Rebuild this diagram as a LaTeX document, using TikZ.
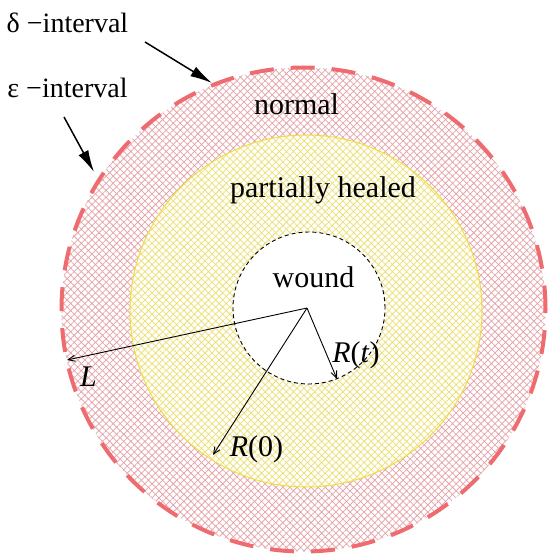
\documentclass[tikz,border=0pt]{standalone}
\usepackage{fontspec}
\setmainfont{Liberation Serif}
\usetikzlibrary{patterns.meta,arrows.meta}
\definecolor{pinkline}{RGB}{230,165,170}
\definecolor{yelline}{RGB}{236,224,115}
\definecolor{redash}{RGB}{238,108,112}
\definecolor{yelborder}{RGB}{240,220,70}
\tikzset{
  bigtxt/.style={anchor=base,inner sep=0pt,font=\fontsize{30}{34}\selectfont},
  toptxt/.style={anchor=base,inner sep=0pt,font=\fontsize{28}{32}\selectfont},
  radius arrow/.style={draw=black,line width=0.9pt,-{Straight Barb[length=7pt,width=6pt]}},
  pointer/.style={draw=black,line width=1.5pt,-{Latex[length=22pt,width=11pt]}},
}
\begin{document}
\begin{tikzpicture}[x=1pt,y=-1pt]
\useasboundingbox (0,0) rectangle (548,558);
\coordinate (oc) at (303.5,309.5);
\coordinate (yc) at (306,311);
\coordinate (wc) at (309,308);
\coordinate (ctr) at (307,308);
% outer normal region
\fill[white] (oc) circle (242pt);
\fill[pattern={Hatch[angle=45,distance=5pt,line width=0.75pt]},pattern color=pinkline] (oc) circle (242pt);
% partially healed region
\fill[white] (yc) circle (176pt);
\fill[pattern={Hatch[angle=45,distance=5pt,line width=0.75pt]},pattern color=yelline] (yc) circle (176pt);
\draw[yelborder,line width=1pt] (yc) circle (176pt);
% wound
\draw[black,fill=white,line width=0.9pt,dash pattern=on 4pt off 3pt] (wc) circle (76pt);
% outer dashed border
\draw[redash,line width=4pt,dash pattern=on 24pt off 17pt] (oc) circle (242pt);
% labels
\node[bigtxt] (normal) at (296.5,114) {normal};
\node[bigtxt] (partial) at (323,197) {partially healed};
\node[bigtxt] (wound) at (313.5,287) {wound};
\node[bigtxt] (Llab) at (88.5,386) {\textit{L}};
\node[bigtxt] (Rtlab) at (356,362) {\textit{R}(\textit{t})};
\node[bigtxt] (R0lab) at (256.5,456) {\textit{R}(0)};
\node[toptxt] (delta) at (67.5,32) {δ −interval};
\node[toptxt] (eps) at (67.5,97) {ε −interval};
% radii
\coordinate (Ltip) at (67,360);
\coordinate (R0tip) at (213,455);
\coordinate (Rttip) at (337,379);
\draw[radius arrow] (ctr) -- (Ltip);
\draw[radius arrow] (ctr) -- (R0tip);
\draw[radius arrow] (ctr) -- (Rttip);
% pointers
\coordinate (dA) at (145,42);
\coordinate (dB) at (212,83);
\coordinate (eA) at (64,117);
\coordinate (eB) at (94,172);
\draw[pointer] (dA) -- (dB);
\draw[pointer] (eA) -- (eB);
\end{tikzpicture}
\end{document}
